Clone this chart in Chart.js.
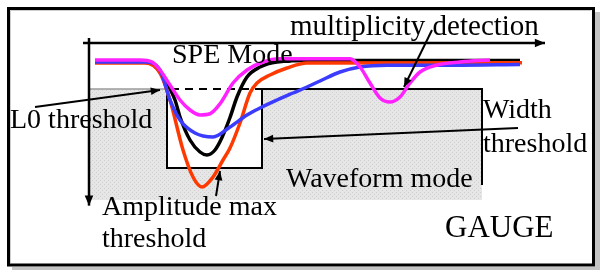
<!DOCTYPE html>
<html>
<head>
<meta charset="utf-8">
<script src="https://cdn.jsdelivr.net/npm/chart.js@4/dist/chart.umd.min.js"></script>
<style>
  html, body { margin: 0; padding: 0; background: #fff; }
  canvas { display: block; }
</style>
</head>
<body>
<canvas id="pulseChart" width="600" height="270"></canvas>
<script>
// === PULSE SHAPES (time in ns, amplitude drawn downward) ===
const magentaPulse = [[1,0],[10,0],[12.4,1.6],[14,8],[16,20],[18,32],[20,40],[22,44],[24,43],[26,35],
  [28.6,18.4],[31.4,8],[34.6,1.6],[38,-1],[52,-1],[54,5.6],[56,18.4],[58,30.4],[60,33.6],[62,29.6],
  [64,18.4],[66,9.6],[69.4,4],[74,1.6],[80,0]];
const bluePulse = [[1,1.6],[11,1.6],[14,8],[16,32],[18,48],[21,58.4],[24.6,61.6],[28,53.6],[31.4,44],
  [34,38.4],[37.4,32],[40.6,26.4],[43.4,21.6],[46,16.8],[50,9.6],[54,5.6],[59.4,4.2],[72.6,4.2],[86,3.6]];
const redPulse = [[1,2.4],[11,2.4],[14,10.4],[16,32],[18.6,72],[20.6,93.6],[22.4,101.6],[24.6,93.6],
  [26.6,80],[28,70.4],[30,50.4],[32,26.4],[33.4,18.4],[36,12],[39.4,6.4],[43.4,2.4],[86.4,2.2]];
const blackPulse = [[1,0.8],[11,0.8],[13,4.8],[15,16],[17,32],[18,45.6],[20,64],[22,73.6],[23.4,76],
  [25,72],[26.4,62],[28,46],[29.4,29.6],[31.4,13.6],[34,5.6],[37.4,1.6],[44.6,0.4],[86,0.4]];

// thresholds
const L0_LEVEL = 23.2;          // L0 threshold amplitude
const AMP_MAX_LEVEL = 86.4;     // amplitude max threshold
const WIDTH_WINDOW = [15.4, 34.4];
const WAVEFORM_END = 78.4;
const WAVEFORM_FLOOR = 112;

const SERIF = '"Liberation Serif", "DejaVu Serif", serif';

function arrowHead(ctx, x0, y0, x1, y1, size) {
    const ang = Math.atan2(y1 - y0, x1 - x0);
    ctx.beginPath();
    ctx.moveTo(x1, y1);
    ctx.lineTo(x1 - size * Math.cos(ang - 0.4), y1 - size * Math.sin(ang - 0.4));
    ctx.lineTo(x1 - size * Math.cos(ang + 0.4), y1 - size * Math.sin(ang + 0.4));
    ctx.closePath();
    ctx.fill();
}

function arrow(ctx, x0, y0, x1, y1, width, size) {
    ctx.lineWidth = width;
    ctx.beginPath();
    ctx.moveTo(x0, y0);
    ctx.lineTo(x1, y1);
    ctx.stroke();
    arrowHead(ctx, x0, y0, x1, y1, size);
}

let dotPattern = null;
function getPattern(ctx) {
    if (dotPattern) return dotPattern;
    const tile = document.createElement('canvas');
    tile.width = 4; tile.height = 4;
    const t = tile.getContext('2d');
    t.fillStyle = '#e6e6e6';
    t.fillRect(0, 0, 4, 4);
    t.fillStyle = '#cfcfcf';
    t.fillRect(0, 0, 1, 1);
    t.fillRect(2, 2, 1, 1);
    dotPattern = ctx.createPattern(tile, 'repeat');
    return dotPattern;
}

const diagramPlugin = {
    id: 'diagram',
    beforeDatasetsDraw(chart) {
        const { ctx, scales: { x, y } } = chart;
        const px = v => x.getPixelForValue(v);
        const py = v => y.getPixelForValue(v);
        ctx.save();

        // outer frame + drop shadow
        ctx.fillStyle = '#c4c4c4';
        ctx.fillRect(595, 12, 5, 258);
        ctx.fillRect(12, 267, 588, 3);
        ctx.strokeStyle = '#000';
        ctx.lineWidth = 3;
        ctx.strokeRect(8.5, 8.5, 585, 256.5);
        ctx.strokeStyle = '#cfcfcf';
        ctx.lineWidth = 1;
        ctx.beginPath();
        ctx.moveTo(10.5, 263);
        ctx.lineTo(10.5, 10.5);
        ctx.lineTo(591, 10.5);
        ctx.stroke();

        // waveform mode area
        const top = py(L0_LEVEL);
        ctx.fillStyle = getPattern(ctx);
        ctx.fillRect(px(0), top, px(WAVEFORM_END) - px(0), py(WAVEFORM_FLOOR) - top);

        // SPE box (width window x amplitude max)
        const bx0 = px(WIDTH_WINDOW[0]), bx1 = px(WIDTH_WINDOW[1]), by1 = py(AMP_MAX_LEVEL);
        ctx.fillStyle = '#fff';
        ctx.fillRect(bx0, top, bx1 - bx0, by1 - top);
        ctx.strokeStyle = '#000';
        ctx.lineWidth = 2;
        ctx.beginPath();
        ctx.moveTo(bx0, top);
        ctx.lineTo(bx0, by1);
        ctx.lineTo(bx1, by1);
        ctx.lineTo(bx1, top);
        ctx.lineTo(px(WAVEFORM_END), top);
        ctx.lineTo(px(WAVEFORM_END), py(WAVEFORM_FLOOR) - 15);
        ctx.stroke();

        ctx.strokeStyle = '#9a9a9a';
        ctx.lineWidth = 1.5;
        ctx.beginPath();
        ctx.moveTo(px(0), top);
        ctx.lineTo(bx0, top);
        ctx.stroke();

        // L0 dashed level
        ctx.strokeStyle = '#000';
        ctx.lineWidth = 2;
        ctx.setLineDash([8, 6]);
        ctx.beginPath();
        ctx.moveTo(bx0 + 4, top);
        ctx.lineTo(bx1, top);
        ctx.stroke();
        ctx.setLineDash([]);

        // axes
        ctx.fillStyle = '#000';
        ctx.strokeStyle = '#000';
        arrow(ctx, px(-1.4), py(-13.6), px(91), py(-13.6), 2.5, 11);
        arrow(ctx, px(-0.2), py(-17.6), px(-0.2), py(116.5), 2.5, 11);

        ctx.restore();
    },
    afterDatasetsDraw(chart) {
        const { ctx } = chart;
        ctx.save();
        ctx.fillStyle = '#000';
        ctx.strokeStyle = '#000';

        // annotation arrows
        arrow(ctx, 35, 107, 160, 90, 2, 10);
        arrow(ctx, 432, 30, 404, 87, 2, 10);
        arrow(ctx, 518, 128, 264, 139, 2, 10);
        arrow(ctx, 216, 196, 220, 171, 2, 10);

        // labels
        ctx.textBaseline = 'alphabetic';
        ctx.textAlign = 'left';
        ctx.font = '29px ' + SERIF;
        ctx.fillText('multiplicity detection', 290, 35);
        ctx.font = '28px ' + SERIF;
        ctx.fillText('SPE Mode', 172, 63);
        ctx.fillText('L0 threshold', 10, 128);
        ctx.fillText('Width', 483, 118);
        ctx.fillText('threshold', 483, 152);
        ctx.fillText('Waveform mode', 286, 187);
        ctx.fillText('Amplitude max', 102, 215);
        ctx.fillText('threshold', 102, 247);
        ctx.font = '31px ' + SERIF;
        ctx.fillText('GAUGE', 445, 237);

        ctx.restore();
    }
};

function pulse(label, data, color, order) {
    return {
        label, data, order,
        borderColor: color,
        borderWidth: 3.5,
        pointRadius: 0,
        fill: false,
        cubicInterpolationMode: 'monotone'
    };
}

new Chart(document.getElementById('pulseChart'), {
    type: 'line',
    data: {
        datasets: [
            pulse('magenta', magentaPulse, '#ff22ff', 0),
            pulse('blue', bluePulse, '#3c3cff', 1),
            pulse('red', redPulse, '#ff3a00', 2),
            pulse('black', blackPulse, '#000000', 3)
        ]
    },
    options: {
        responsive: false,
        animation: false,
        devicePixelRatio: 1,
        layout: { padding: 0 },
        plugins: { legend: { display: false }, tooltip: { enabled: false } },
        scales: {
            x: { type: 'linear', min: -18, max: 102, display: false },
            y: { type: 'linear', min: -48, max: 168, reverse: true, display: false }
        }
    },
    plugins: [diagramPlugin]
});
</script>
</body>
</html>
